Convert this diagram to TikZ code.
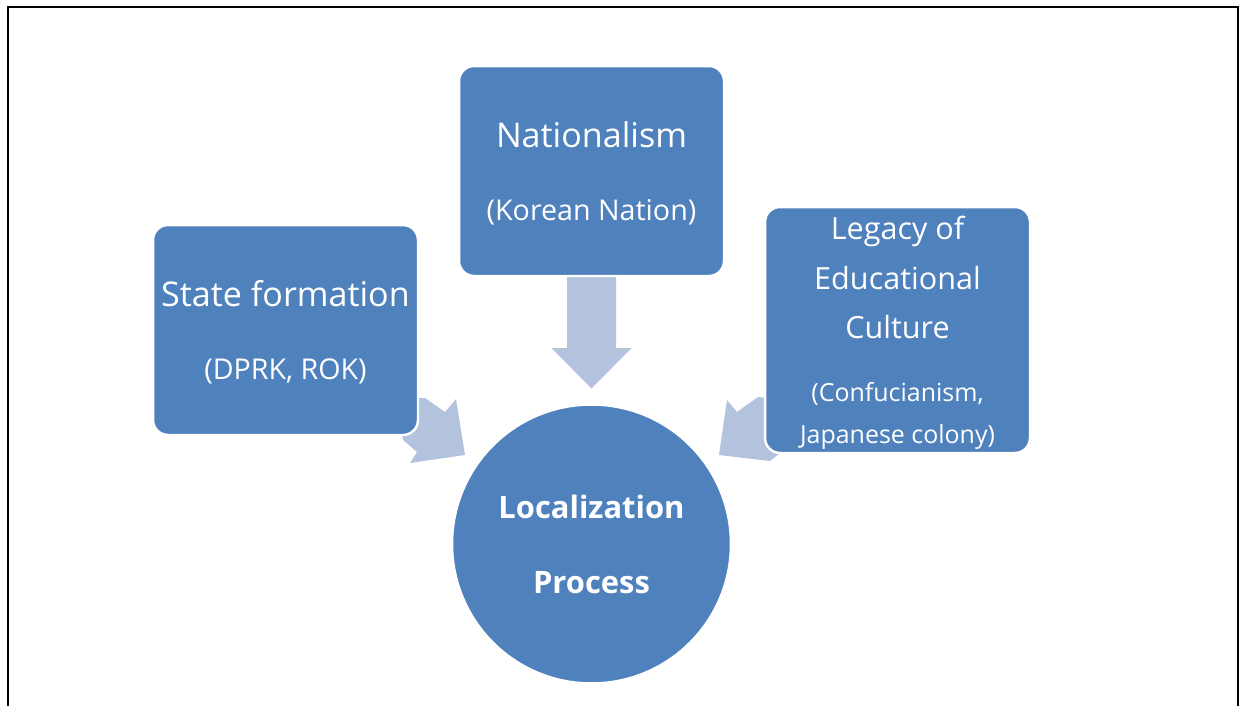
\documentclass[tikz,border=0pt]{standalone}
\usepackage{fontspec}
\setmainfont{Open Sans}
\usepackage{xcolor}
\usepackage{tikz}
\usetikzlibrary{positioning}
\definecolor{boxblue}{HTML}{4F81BD}
\definecolor{arrowblue}{HTML}{B3C2DD}
% smaller second line inside a card
\newcommand\detail[2][16.3]{{\fontsize{#1}{#1}\selectfont #2}}

\begin{document}
\begin{tikzpicture}[x=0.02cm, y=-0.02cm,
 card/.style={draw=white, line width=1.4pt, fill=boxblue, rounded corners=0.3cm,
   minimum width=5.3cm, minimum height=4.2cm, inner sep=0pt, text=white, align=center,
   text depth=0pt, font=\fontsize{19.4}{42}\selectfont},
 hub/.style={circle, draw=white, line width=1.4pt, fill=boxblue, minimum size=5.58cm,
   inner sep=0pt, text=white, align=center, font=\bfseries\fontsize{17.6}{42.7}\selectfont},
 push/.style={fill=arrowblue}]
\useasboundingbox (0,0) rectangle (1240,706);
\draw[line width=1.1pt] (8,706) -- (8,7) -- (1238,7) -- (1238,706);

% block arrows (drawn first, the cards sit on top)
\fill[push] (567,270) -- (616,270) -- (616,348) -- (631.5,348) -- (591.5,388.5)
  -- (551.5,348) -- (567,348) -- cycle;
\fill[push] (425,398) -- (445,412) -- (456,399) -- (465,455) -- (410,463)
  -- (417,452) -- (403,440) -- (400,425) -- (410,398) -- cycle;
\fill[push] (727,400) -- (737,412) -- (758,397) -- (790,400) -- (790,445)
  -- (770,461) -- (719,455) -- cycle;

\node[card](nation) at (591.5,171){Nationalism\\\detail{(Korean Nation)}};
\node[card](state) at (285.5,330){State formation\\\detail{(DPRK, ROK)}};
\node[card, minimum height=4.92cm, text depth=-2.5pt, font=\fontsize{17.4}{28.2}\selectfont](legacy) at (897.5,330)
  {Legacy of\\Educational\\Culture\\[7.4pt]\detail[14.2]{(Confucianism,}\\[-4.3pt]\detail[14.2]{Japanese colony)}};
\node[hub](loc) at (591.5,544){Localization\\Process};

\end{tikzpicture}
\end{document}
